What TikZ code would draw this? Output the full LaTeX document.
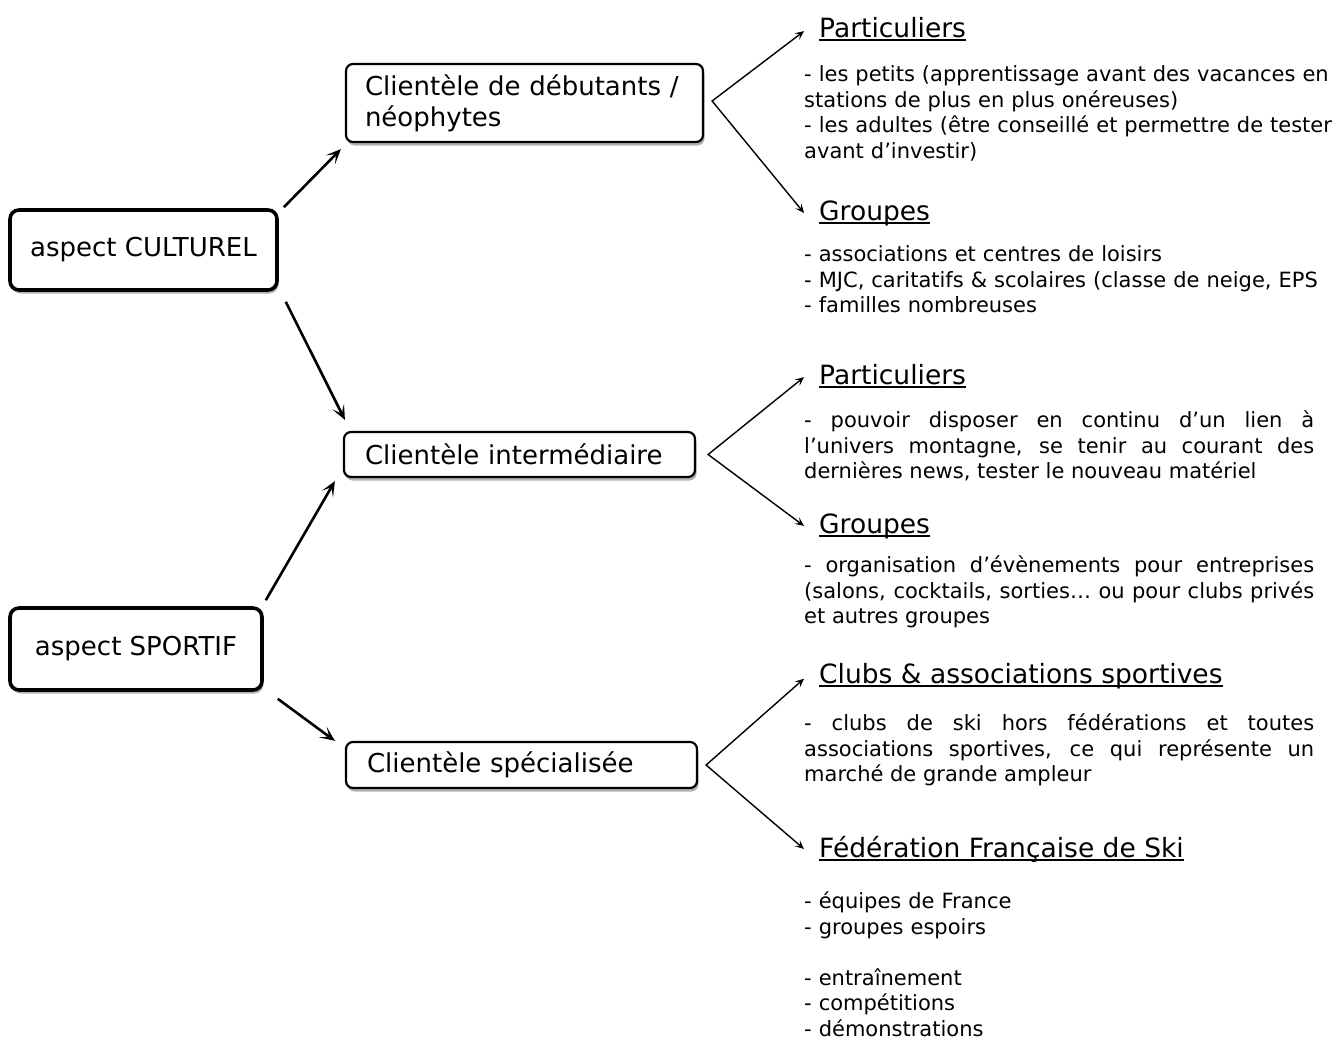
\documentclass[tikz,border=0pt]{standalone}
\usepackage{fontspec}
\setmainfont{DejaVu Sans}
\usetikzlibrary{arrows.meta,shadows,calc}
\begin{document}
\begin{tikzpicture}[x=1pt,y=-1pt,
  boxfont/.style={font=\fontsize{26}{31}\selectfont},
  headfont/.style={font=\fontsize{26.5}{31}\selectfont},
  shad/.style={drop shadow={shadow xshift=1.5pt,shadow yshift=-3.5pt,opacity=0.3,fill=black}},
  bigbox/.style={draw,rounded corners=9pt,line width=3.6pt,fill=white,boxfont,inner sep=0pt,align=center,shad},
  smallbox/.style={draw,rounded corners=7pt,line width=2.2pt,fill=white,boxfont,inner xsep=21pt,inner ysep=0pt,align=left,shad},
  head/.style={anchor=base west,inner sep=0pt,headfont},
  body/.style={anchor=north west,inner sep=0pt,font=\fontsize{21}{25.5}\selectfont,text width=540pt,align=left},
  bodyj/.style={body,text width=510pt,align=justify},
  bigarrow/.style={line width=2.6pt,-{Stealth[length=15pt,width=13pt,inset=8pt]}},
  fork/.style={line width=1.4pt,{Stealth[length=9pt,width=8pt,inset=4pt]}-{Stealth[length=9pt,width=8pt,inset=4pt]}},
  uline/.style={line width=1.2pt}
]
\useasboundingbox[fill=white] (0,0) rectangle (1335,1039);

% main boxes
\node[bigbox,minimum width=267pt,minimum height=80pt] (cult) at (143.5,250) {aspect CULTUREL};
\node[bigbox,minimum width=252pt,minimum height=82pt] (sport) at (136,649) {aspect SPORTIF};

\node[smallbox,minimum width=357pt,minimum height=78pt,text width=319pt,inner xsep=19pt] (deb) at (524.5,103) {Clientèle de débutants /\\néophytes};
\node[smallbox,minimum width=351pt,minimum height=45pt,text width=309pt] (inter) at (519.5,454.5) {Clientèle intermédiaire};
\node[smallbox,minimum width=351pt,minimum height=46pt,text width=309pt] (spec) at (521.5,765) {Clientèle spécialisée};

% arrows between boxes
\draw[bigarrow] ([xshift=5pt,yshift=1pt]cult.north east) -- ([xshift=-4pt,yshift=-6pt]deb.south west);
\draw[bigarrow] ([xshift=7pt,yshift=-10pt]cult.south east) -- ([xshift=2pt,yshift=11pt]inter.north west);
\draw[bigarrow] ([xshift=2pt,yshift=6pt]sport.north east) -- ([xshift=-8pt,yshift=-3pt]inter.south west);
\draw[bigarrow] ([xshift=14pt,yshift=-7pt]sport.south east) -- ([xshift=-10pt]spec.north west);

% headings
\node[head] (p1) at (819,37) {Particuliers};
\node[head] (g1) at (819,220) {Groupes};
\node[head] (p2) at (819,384) {Particuliers};
\node[head] (g2) at (819,533) {Groupes};
\node[head] (c3) at (819,683) {Clubs \& associations sportives};
\node[head] (f3) at (819,857) {Fédération Française de Ski};
\foreach \h in {p1,g1,p2,g2,c3,f3}{
  \draw[uline] ([yshift=-3pt]\h.base west) -- ([yshift=-3pt]\h.base east);
}

% forks
\coordinate (v1) at ([xshift=8pt,yshift=2pt]deb.east);
\coordinate (v2) at ([xshift=12pt]inter.east);
\coordinate (v3) at ([xshift=8pt]spec.east);
\draw[fork] ([xshift=-15pt,yshift=-4pt]p1.west) -- (v1) -- ([xshift=-15pt]g1.west);
\draw[fork] ([xshift=-15pt,yshift=-3pt]p2.west) -- (v2) -- ([xshift=-15pt]g2.west);
\draw[fork] ([xshift=-15pt,yshift=-3pt]c3.west) -- (v3) -- ([xshift=-15pt]f3.west);

% body texts
\node[body] (tp1) at (804,63.6) {\strut- les petits (apprentissage avant des vacances en\\stations de plus en plus onéreuses)\\- les adultes (être conseillé et permettre de tester\\avant d’investir)};
\node[body] (tg1) at (804,243.6) {\strut- associations et centres de loisirs\\- MJC, caritatifs \& scolaires (classe de neige, EPS\\- familles nombreuses};
\node[bodyj] (tp2) at (804,409.6) {\strut- pouvoir disposer en continu d’un lien à\linebreak l’univers montagne, se tenir au courant des\linebreak dernières news, tester le nouveau matériel};
\node[bodyj] (tg2) at (804,554.6) {\strut- organisation d’évènements pour entreprises\linebreak (salons, cocktails, sorties… ou pour clubs privés\linebreak et autres groupes};
\node[bodyj] (tc3) at (804,712.6) {\strut- clubs de ski hors fédérations et toutes\linebreak associations sportives, ce qui représente un\linebreak marché de grande ampleur};
\node[body] (tf3) at (804,890.6) {\strut- équipes de France\\- groupes espoirs\\\mbox{}\\- entraînement\\- compétitions\\- démonstrations};
\end{tikzpicture}
\end{document}
